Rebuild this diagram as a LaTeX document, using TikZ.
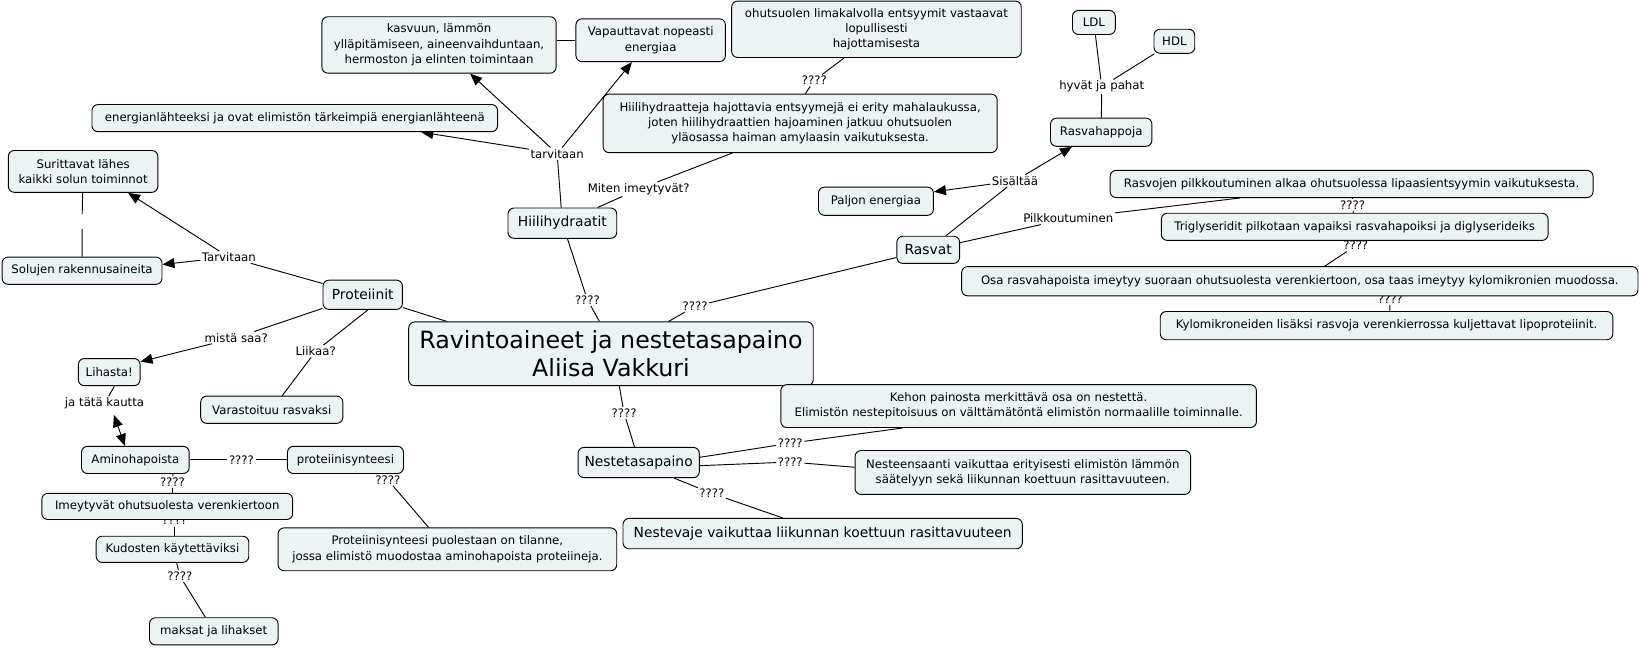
\documentclass[tikz,border=0pt]{standalone}
\usepackage{fontspec}
\setmainfont{DejaVu Sans}
\usetikzlibrary{arrows.meta}
\newlength\pxu \setlength\pxu{0.784pt}
\definecolor{boxfill}{RGB}{236,243,245}
\pgfdeclarelayer{bg}\pgfsetlayers{bg,main}
\tikzset{
  box/.style={draw=black, fill=boxfill, rounded corners=4.5pt, line width=0.7pt, inner sep=0pt, align=center, font=\fontsize{8.8}{11.4}\selectfont},
  big/.style={font=\fontsize{10.4}{12.5}\selectfont},
  huge/.style={font=\fontsize{17.8}{21}\selectfont},
  lbl/.style={inner sep=1pt, font=\fontsize{8.8}{10.6}\selectfont},
  conn/.style={line width=0.7pt},
  tip/.tip={Triangle[length=9pt,width=7.5pt]},
  arr/.style={conn, -tip},
}
\newcommand{\bx}[7][]{\node[box,#1,minimum width={(#5-#3)*0.784pt},minimum height={(#6-#4)*0.784pt}] (#2) at ({(#3+#5)/2},{(#4+#6)/2}) {#7};}
\begin{document}
\begin{tikzpicture}[x=0.784pt,y=-0.784pt]
\useasboundingbox (0,0) rectangle (1568,619);
\bx{kasv}{308}{16}{532}{70}{kasvuun, lämmön\\ ylläpitämiseen, aineenvaihduntaan,\\ hermoston ja elinten toimintaan}
\bx{vap}{551}{18}{694}{59}{Vapauttavat nopeasti\\ energiaa}
\bx{ohut}{700}{1}{977}{55}{ohutsuolen limakalvolla entsyymit vastaavat\\ lopullisesti\\ hajottamisesta}
\bx{ldl}{1026}{10}{1067}{33}{LDL}
\bx{hdl}{1104}{28}{1143}{51}{HDL}
\bx{rasvah}{1005}{113}{1102}{140}{Rasvahappoja}
\bx{energ}{88}{100}{476}{126}{energianlähteeksi ja ovat elimistön tärkeimpiä energianlähteenä}
\bx{hient}{577}{90}{954}{146}{Hiilihydraatteja hajottavia entsyymejä ei erity mahalaukussa,\\ joten hiilihydraattien hajoaminen jatkuu ohutsuolen\\ yläosassa haiman amylaasin vaikutuksesta.}
\bx{surit}{8}{144}{151}{184}{Surittavat lähes\\ kaikki solun toiminnot}
\bx{paljon}{783}{179}{893}{206}{Paljon energiaa}
\bx{rpilk}{1062}{163}{1524}{189}{Rasvojen pilkkoutuminen alkaa ohutsuolessa lipaasientsyymin vaikutuksesta.}
\bx{trig}{1111}{204}{1481}{230}{Triglyseridit pilkotaan vapaiksi rasvahapoiksi ja diglyserideiks}
\bx[big]{hiili}{486}{199}{590}{228}{Hiilihydraatit}
\bx[big]{rasvat}{858}{226}{918}{252}{Rasvat}
\bx{solujen}{2}{246}{155}{272}{Solujen rakennusaineita}
\bx{osa}{920}{255}{1567}{283}{Osa rasvahapoista imeytyy suoraan ohutsuolesta verenkiertoon, osa taas imeytyy kylomikronien muodossa.}
\bx[big]{prot}{309}{268}{385}{296}{Proteiinit}
\bx{kylo}{1110}{298}{1543}{325}{Kylomikroneiden lisäksi rasvoja verenkierrossa kuljettavat lipoproteiinit.}
\bx[huge]{center}{391}{308}{778}{369}{Ravintoaineet ja nestetasapaino\\ Aliisa Vakkuri}
\bx{lihasta}{75}{343}{134}{369}{Lihasta!}
\bx{kehon}{747}{368}{1202}{409}{Kehon painosta merkittävä osa on nestettä.\\ Elimistön nestepitoisuus on välttämätöntä elimistön normaalille toiminnalle.}
\bx{varast}{192}{379}{328}{405}{Varastoituu rasvaksi}
\bx{amino}{78}{427}{181}{453}{Aminohapoista}
\bx{protsyn}{275}{427}{386}{453}{proteiinisynteesi}
\bx[big]{neste}{553}{428}{669}{457}{Nestetasapaino}
\bx{nesteens}{818}{431}{1139}{473}{Nesteensaanti vaikuttaa erityisesti elimistön lämmön\\ säätelyyn sekä liikunnan koettuun rasittavuuteen.}
\bx{imey}{40}{472}{280}{497}{Imeytyvät ohutsuolesta verenkiertoon}
\bx[big]{nestevaje}{596}{496}{978}{525}{Nestevaje vaikuttaa liikunnan koettuun rasittavuuteen}
\bx{kudos}{92}{513}{238}{538}{Kudosten käytettäviksi}
\bx{protsyntwo}{266}{505}{590}{546}{Proteiinisynteesi puolestaan on tilanne,\\ jossa elimistö muodostaa aminohapoista proteiineja.}
\bx{maksat}{143}{591}{266}{617}{maksat ja lihakset}
\begin{pgfonlayer}{bg}
\node[lbl] (lohut) at (779,77) {????};
\node[lbl] (ltarv) at (533,147) {tarvitaan};
\node[lbl] (lmiten) at (611,181) {Miten imeytyvät?};
\node[lbl] (lsis) at (971,173) {Sisältää};
\node[lbl] (lhyv) at (1054,83) {hyvät ja pahat};
\node[lbl] (lpilk) at (1022,209) {Pilkkoutuminen};
\node[lbl] (lqa) at (1294,196) {????};
\node[lbl] (lqb) at (1297,235) {????};
\node[lbl] (lqc) at (1330,286) {????};
\node[lbl] (lTarv) at (219,246) {Tarvitaan};
\node[inner sep=0pt, minimum width=4\pxu, minimum height=14\pxu] (lgap) at (78.5,212) {};
\node[lbl] (lhc) at (562,287) {????};
\node[lbl] (lrc) at (665,293) {????};
\node[lbl] (lmista) at (226,323) {mistä saa?};
\node[lbl] (lliik) at (302,336) {Liikaa?};
\node[lbl] (ljata) at (100,386) {ja tätä kautta};
\node[lbl] (lnc) at (597,395) {????};
\node[lbl] (lnk) at (756,424) {????};
\node[lbl] (lnn) at (756,442) {????};
\node[lbl] (lnv) at (681,472) {????};
\node[lbl] (lap) at (231,440) {????};
\node[lbl] (lai) at (165,461) {????};
\node[lbl] (lik) at (167,498) {????};
\node[lbl] (lkm) at (172,551) {????};
\node[lbl] (lps) at (371,459) {????};
\draw[conn] (kasv.east |- vap.west) -- (vap.west);
\draw[conn] (hiili) -- (ltarv);
\draw[arr] (ltarv) -- (kasv);
\draw[arr] (ltarv) -- ([xshift=121\pxu]energ.south);
\draw[arr] (ltarv) -- ([xshift=-18\pxu]vap.south);
\draw[conn] (hiili) -- (lmiten) -- ([xshift=-65\pxu]hient.south);
\draw[conn] ([xshift=-31\pxu]ohut.south) -- (lohut) -- ([xshift=5\pxu]hient.north);
\draw[conn] (hiili) -- (lhc) -- ([xshift=-11\pxu]center.north);
\draw[conn] (rasvat) -- (lrc) -- ([xshift=55\pxu]center.north);
\draw[conn] (rasvat) -- (lsis);
\draw[arr] (lsis) -- ([yshift=9\pxu]paljon.east);
\draw[arr] (lsis) -- ([xshift=-28\pxu]rasvah.south);
\draw[conn] (rasvah) -- (lhyv);
\draw[conn] (lhyv) -- (ldl);
\draw[conn] (lhyv) -- (hdl);
\draw[conn] (rasvat) -- (lpilk) -- ([xshift=-107\pxu]rpilk.south);
\draw[conn] (rpilk) -- (lqa) -- (trig);
\draw[conn] (trig) -- (lqb) -- ([xshift=24\pxu]osa.north);
\draw[conn] ([xshift=86\pxu]osa.south) -- (lqc) -- ([xshift=3\pxu]kylo.north);
\draw[conn] (prot) -- ([xshift=37\pxu]center.north west);
\draw[conn] (prot) -- (lTarv);
\draw[arr] (lTarv) -- ([xshift=43\pxu]surit.south);
\draw[arr] (lTarv) -- ([yshift=6\pxu]solujen.east);
\draw[conn] (surit) -- (lgap) -- (solujen);
\draw[conn] (prot) -- (lmista);
\draw[arr] (lmista) -- ([yshift=10\pxu]lihasta.east);
\draw[conn] ([xshift=5\pxu]prot.south) -- (lliik) -- ([xshift=10\pxu]varast.north);
\draw[conn] ([xshift=5\pxu]lihasta.south) -- (ljata);
\draw[conn, tip-tip] ([xshift=9\pxu,yshift=-4\pxu]ljata.south) -- ([xshift=-10\pxu]amino.north);
\draw[conn] (amino) -- (lap) -- (protsyn);
\draw[conn] ([xshift=36\pxu]amino.south) -- (lai) -- ([xshift=5\pxu]imey.north);
\draw[conn] ([xshift=7\pxu]imey.south) -- (lik) -- ([xshift=2\pxu]kudos.north);
\draw[conn] ([xshift=4\pxu]kudos.south) -- (lkm) -- ([xshift=-8\pxu]maksat.north);
\draw[conn] ([xshift=40\pxu]protsyn.south) -- (lps) -- (protsyntwo);
\draw[conn] ([xshift=-4\pxu]neste.north) -- (lnc) -- ([xshift=8\pxu]center.south);
\draw[conn] ([yshift=5\pxu]neste.east) -- (lnk) -- ([xshift=-111\pxu]kehon.south);
\draw[conn] ([yshift=-3\pxu]neste.east) -- (lnn) -- ([yshift=5\pxu]nesteens.west);
\draw[conn] ([xshift=34\pxu]neste.south) -- (lnv) -- ([xshift=-38\pxu]nestevaje.north);
\end{pgfonlayer}
\end{tikzpicture}
\end{document}
